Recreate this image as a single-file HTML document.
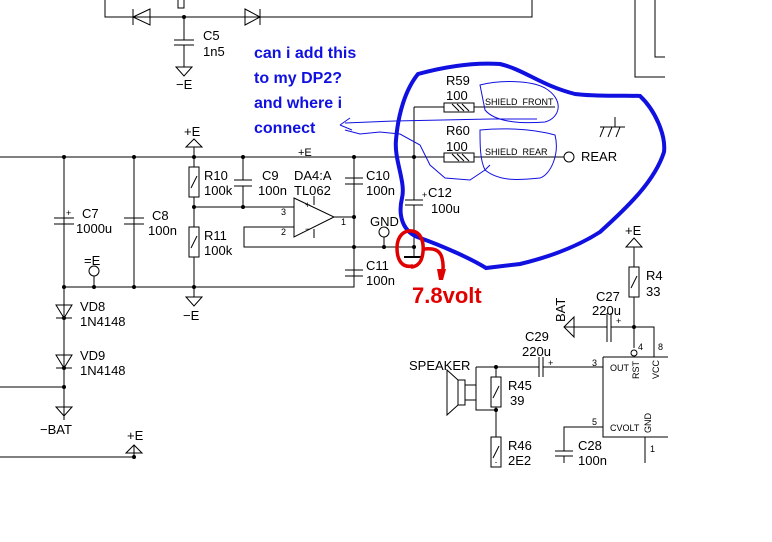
<!DOCTYPE html>
<html><head><meta charset="utf-8"><style>
html,body{margin:0;padding:0;background:#fff;}
svg{display:block;}
text{font-family:"Liberation Sans",sans-serif;}
.t{font-size:13px;fill:#000;}
.s{font-size:9px;fill:#000;}
</style></head><body>
<svg width="772" height="542" viewBox="0 0 772 542" xmlns="http://www.w3.org/2000/svg">
<g stroke="#000" stroke-width="1" fill="none">
<path d="M105 0V17H532V0"/>
<path d="M150 9L133 17L150 25Z M133 9V25"/>
<path d="M245 9L260 17L245 25Z M260 9V25"/>
<path d="M184 0V8H178V0 M184 17V40 M184 45V67"/>
<path d="M174 40H194 M174 45H194"/>
<path d="M176 67H192L184 76Z"/>
<path d="M635 0V77H665 M655 0V57H665"/>
<path d="M0 157H565 M64 157V287H354V157"/>
<path d="M134 157V287"/>
<path d="M194 147V167 M194 197V227 M194 257V297"/>
<path d="M186 147H202L194 139Z"/>
<path d="M186 297H202L194 306Z"/>
<rect x="189" y="167" width="10" height="30"/><path d="M191 188L197 176"/>
<rect x="189" y="227" width="10" height="30"/><path d="M191 248L197 236"/>
<path d="M54 218H74 M54 224H74 M124 218H144 M124 224H144"/>
<path d="M243 157V180 M243 186V207 M234 180H252 M234 186H252"/>
<path d="M194 207H294 M294 227H244V247H414"/>
<path d="M294 198L334 217L294 237Z M314 205V196 M314 229V238"/>
<path d="M334 217H354"/>
<path d="M345 178H363 M345 184H363 M345 270H363 M345 276H363"/>
<path d="M354 157V178 M354 184V270 M354 276V287"/>
<path d="M94 287V276"/><circle cx="94" cy="271" r="5"/>
<path d="M384 247V237"/><circle cx="384" cy="232" r="5"/>
<path d="M414 107V200 M414 205V257 M405 200H423 M405 205H423"/>
<path d="M414 107H555"/>
<rect x="444" y="103" width="30" height="9" fill="#fff"/><path d="M452 104L459 111M457 104L464 111M462 104L469 111"/>
<rect x="444" y="153" width="30" height="9" fill="#fff"/><path d="M452 154L459 161M457 154L464 161M462 154L469 161"/>
<circle cx="569" cy="157" r="5" fill="#fff"/>
<path d="M615 117V127 M600 127H625 M604 127L600 137 M612 127L608 137 M620 127L616 137"/>
<path d="M64 287V420 M0 387H64"/>
<path d="M56 305H72L64 318Z M56 318H72 M56 355H72L64 368Z M56 368H72"/>
<path d="M56 407H72L64 416Z"/>
<path d="M0 457H134V445 M126 453H142L134 445Z"/>
<path d="M634 247V267 M634 297V348"/>
<path d="M626 247H642L634 238Z"/>
<rect x="629" y="267" width="10" height="30"/><path d="M631 288L637 276"/>
<path d="M564 327H607 M611 327H654V357 M607 313V342 M611 313V342"/>
<path d="M564 327L574 317V337Z"/>
<circle cx="634" cy="353" r="3"/>
<path d="M603 357H668 M603 357V437H668"/>
<path d="M476 367H539 M543 367H603 M539 357V377 M543 357V377"/>
<path d="M476 367V410H496 M496 367V377 M496 407V437 M496 462V463"/>
<rect x="491" y="377" width="10" height="30"/><path d="M493 398L499 386"/>
<rect x="491" y="437" width="10" height="30"/><path d="M493 458L499 446"/>
<path d="M465 380V405H458V380Z M458 380L447 370V415L458 405"/>
<path d="M465 385H476 M465 400H476"/>
<path d="M603 427H564V451 M564 456V463 M555 451H573 M555 456H573"/>
<path d="M645 437V463"/>
</g>
<g fill="#000">
<circle cx="184" cy="17" r="2"/>
<circle cx="64" cy="157" r="2"/><circle cx="134" cy="157" r="2"/><circle cx="194" cy="157" r="2"/><circle cx="243" cy="157" r="2"/><circle cx="354" cy="157" r="2"/><circle cx="414" cy="157" r="2"/>
<circle cx="194" cy="207" r="2"/><circle cx="243" cy="207" r="2"/>
<circle cx="354" cy="217" r="2"/><circle cx="354" cy="247" r="2"/><circle cx="384" cy="247" r="2"/><circle cx="414" cy="247" r="2"/>
<circle cx="64" cy="287" r="2"/><circle cx="94" cy="287" r="2"/><circle cx="134" cy="287" r="2"/><circle cx="194" cy="287" r="2"/>
<circle cx="64" cy="318" r="2"/><circle cx="64" cy="368" r="2"/><circle cx="64" cy="387" r="2"/><circle cx="134" cy="457" r="2"/>
<circle cx="634" cy="327" r="2"/><circle cx="496" cy="367" r="2"/><circle cx="496" cy="410" r="2"/>
</g>
<rect x="404" y="256" width="19" height="2" fill="#000"/>
<g class="t">
<text x="203" y="40">C5</text><text x="203" y="56">1n5</text><text x="176" y="89">−E</text>
<text x="184" y="136">+E</text><text x="298" y="156" font-size="11">+E</text>
<text x="204" y="180">R10</text><text x="204" y="195">100k</text>
<text x="204" y="240">R11</text><text x="204" y="255">100k</text>
<text x="262" y="180">C9</text><text x="258" y="195">100n</text>
<text x="294" y="180">DA4:A</text><text x="294" y="195">TL062</text>
<text x="366" y="180">C10</text><text x="366" y="195">100n</text>
<text x="82" y="218">C7</text><text x="76" y="233">1000u</text>
<text x="152" y="220">C8</text><text x="148" y="235">100n</text>
<text x="84" y="265">=E</text><text x="370" y="226">GND</text>
<text x="366" y="270">C11</text><text x="366" y="285">100n</text>
<text x="428" y="197">C12</text><text x="431" y="213">100u</text>
<text x="446" y="85">R59</text><text x="446" y="100">100</text>
<text x="446" y="135">R60</text><text x="446" y="151">100</text>
<text x="581" y="161">REAR</text>
<text x="183" y="320">−E</text>
<text x="80" y="311">VD8</text><text x="80" y="326">1N4148</text>
<text x="80" y="360">VD9</text><text x="80" y="375">1N4148</text>
<text x="40" y="434">−BAT</text><text x="127" y="440">+E</text>
<text x="625" y="235">+E</text><text x="646" y="280">R4</text><text x="646" y="296">33</text>
<text x="596" y="301">C27</text><text x="592" y="315">220u</text>
<text x="525" y="341">C29</text><text x="522" y="356">220u</text>
<text x="409" y="370">SPEAKER</text>
<text x="508" y="390">R45</text><text x="510" y="405">39</text>
<text x="508" y="450">R46</text><text x="508" y="465">2E2</text>
<text x="578" y="450">C28</text><text x="578" y="465">100n</text>
<text transform="translate(565,322) rotate(-90)">BAT</text>
</g>
<g class="s">
<text x="281" y="215">3</text><text x="281" y="235">2</text><text x="341" y="225">1</text>
<text x="305" y="208">+</text><text x="305" y="232">−</text>
<text x="66" y="216">+</text><text x="422" y="198">+</text><text x="548" y="366">+</text><text x="616" y="324">+</text>
<text x="485" y="105">SHIELD_FRONT</text><text x="485" y="155">SHIELD_REAR</text>
<text x="592" y="366">3</text><text x="592" y="425">5</text>
<text x="610" y="371">OUT</text><text x="610" y="431">CVOLT</text>
<text x="638" y="350">4</text><text x="658" y="350">8</text><text x="650" y="452">1</text>
<text transform="translate(639,379) rotate(-90)">RST</text>
<text transform="translate(659,379) rotate(-90)">VCC</text>
<text transform="translate(651,433) rotate(-90)">GND</text>
</g>
<g fill="#1010e0" font-weight="bold" font-size="16" font-family="Liberation Sans,sans-serif">
<text x="254" y="58">can i add this</text>
<text x="254" y="83">to my DP2?</text>
<text x="254" y="108">and where i</text>
<text x="254" y="133">connect</text>
</g>
<path d="M486 268C470 258 440 245 420 238C402 232 398 215 402 198C406 182 394 160 396 140C398 115 405 90 418 74C440 68 470 62 500 64C525 70 540 85 575 94C600 97 625 95 640 96C655 110 666 135 664 152C655 180 630 205 600 232C575 248 545 258 520 264Z" fill="none" stroke="#1010e0" stroke-width="4"/>
<g fill="none" stroke="#1010e0" stroke-width="1">
<path d="M340 125L350 118 M340 125L352 130 M345 123L395 121L490 119L537 119"/>
<path d="M345 130L360 134L380 132L400 134L420 145L430 165L445 178L470 180L485 170L490 165"/>
<path d="M480 85C500 80 530 80 545 88C565 100 560 118 545 122C520 124 495 122 485 110Z"/>
<path d="M480 130C500 128 530 128 555 135C560 155 550 175 540 178C520 180 500 182 485 170C480 160 480 145 480 130Z"/>
</g>
<g fill="none" stroke="#e00000" stroke-width="3.5" stroke-linecap="round">
<path d="M412 266C402 268 397 260 397 248C397 236 404 230 412 231C421 232 424 242 423 252C422 262 418 266 412 267"/>
<path d="M424 249C434 248 440 250 442 258C444 266 443 272 441 276"/>
</g>
<path d="M437 269L446 269L443 280L439 280Z" fill="#e00000"/>
<text x="412" y="303" fill="#e00000" font-weight="bold" font-size="22" font-family="Liberation Sans,sans-serif">7.8volt</text>
</svg>
</body></html>
